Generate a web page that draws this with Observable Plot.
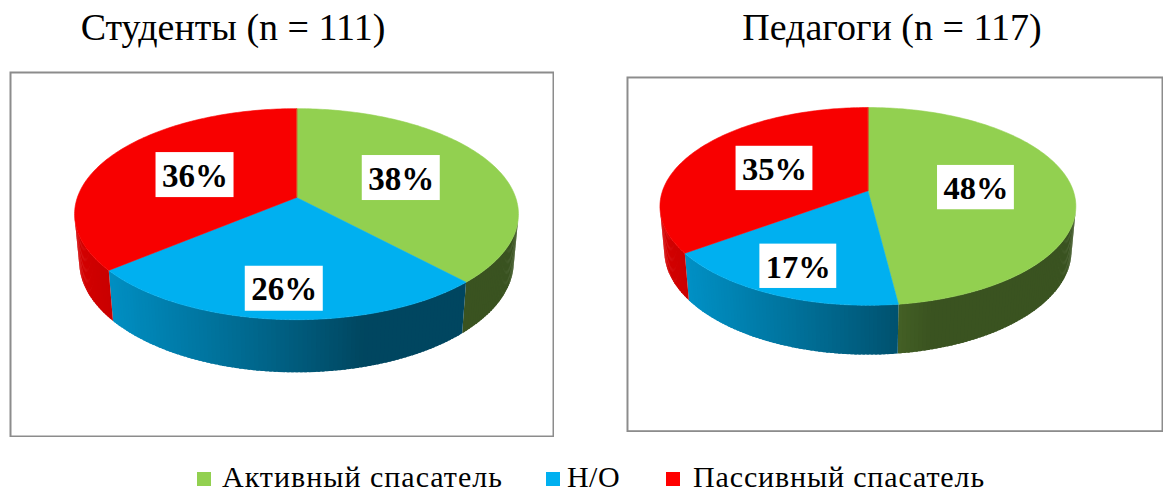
<!DOCTYPE html>
<html><head><meta charset="utf-8">
<script src="https://cdn.jsdelivr.net/npm/d3@7"></script>
<script src="https://cdn.jsdelivr.net/npm/@observablehq/plot@0.6"></script>
<style>
html,body{margin:0;padding:0;background:#fff;overflow:hidden;}
#root{position:relative;width:1163px;height:492px;overflow:hidden;font-family:"Liberation Serif","Times New Roman",serif;color:#000;}
.title{position:absolute;top:8px;font-family:"Liberation Serif","Times New Roman",serif;font-size:38px;line-height:38px;white-space:nowrap;transform:translateX(-50%);}
.chart{position:absolute;}
.lg-sw{position:absolute;width:14px;height:14px;top:472px;}
.lg-tx{position:absolute;top:462px;font-family:"Liberation Serif","Times New Roman",serif;font-size:30px;line-height:30px;white-space:nowrap;}
</style></head><body><div id="root"></div>
<script>
// ---- data ----
const categories = ["Активный спасатель", "Н/О", "Пассивный спасатель"];
const groupTitles = ["Студенты (n = 111)", "Педагоги (n = 117)"];
const studentValues = [38, 26, 36];
const teacherValues = [48, 17, 35];
// ---- styles ----
const sliceColors = ["#92D050", "#00B0F0", "#F80000"];
const legendColors = ["#92D050", "#00B0F0", "#FF0000"];

const root = document.getElementById("root");

function pie3d({values, width, height, cx, cy, K}) {
  const D = 5.59, phi = 28 * Math.PI / 180, s = Math.sin(phi), c = Math.cos(phi), h = 0.248;
  const proj = (X, Y, Z) => {
    const depth = D - Y * c - Z * s;
    return [cx + K * X / depth, cy + K * (Y * s - Z * c) / depth];
  };
  const rim = (a, Z) => proj(Math.sin(a), -Math.cos(a), Z);
  const arcs = d3.pie().sort(null).value(d => d)(values);
  const shade = (col, a) => {
    const k = 0.4 + 0.45 * Math.max(0, Math.cos(a - 255 * Math.PI / 180));
    const r = d3.rgb(col);
    return d3.rgb(r.r * k, r.g * k, r.b * k).formatHex();
  };
  const sideRows = [];
  let key = 0;
  const step = Math.PI / 180;
  // side faces (visible outer wall only), small overlapping strips for shading
  arcs.forEach((arc, i) => {
    const span = arc.endAngle - arc.startAngle;
    const n = Math.max(1, Math.ceil(span / step));
    for (let j = 0; j < n; j++) {
      const a0 = arc.startAngle + span * j / n;
      const a1 = arc.startAngle + span * (j + 1) / n;
      const am = (a0 + a1) / 2;
      if (-1 - D * c * Math.cos(am) <= -0.05) continue;
      const fill = shade(sliceColors[i], am);
      const a1x = j < n - 1 ? a1 + step * 0.6 : a1;
      const pts = [rim(a0, 0), rim(a1x, 0), rim(a1x, -h), rim(a0, -h)];
      key++;
      pts.forEach(p => sideRows.push({key, x: p[0], y: p[1], fill}));
    }
  });
  const topRows = [];
  // top faces
  arcs.forEach((arc, i) => {
    key++;
    const fill = sliceColors[i];
    const ctr = proj(0, 0, 0);
    topRows.push({key, x: ctr[0], y: ctr[1], fill});
    const n = Math.max(2, Math.ceil((arc.endAngle - arc.startAngle) / step));
    for (let j = 0; j <= n; j++) {
      const a = arc.startAngle + (arc.endAngle - arc.startAngle) * j / n;
      const p = rim(a, 0);
      topRows.push({key, x: p[0], y: p[1], fill});
    }
  });
  // labels
  const labels = arcs.map((arc) => {
    const am = (arc.startAngle + arc.endAngle) / 2;
    const Ym = -Math.cos(am);
    const r = 0.53 + 0.25 * Math.max(0, Ym);
    const p = proj(r * Math.sin(am), r * Ym, 0);
    return {x: p[0], y: p[1], text: Math.round(arc.value) + "%"};
  });
  const bw = 78, bh = 45;
  return Plot.plot({
    width, height,
    margin: 0,
    x: {domain: [0, width], range: [0, width], axis: null},
    y: {domain: [0, height], range: [0, height], axis: null},
    color: {type: "identity"},
    marks: [
      Plot.frame({stroke: "#8c8c8c", strokeWidth: 2, inset: 1}),
      Plot.line(sideRows, {x: "x", y: "y", z: "key", fill: "fill", curve: "linear-closed"}),
      Plot.line(topRows, {x: "x", y: "y", z: "key", fill: "fill", stroke: "fill", strokeWidth: 0.6, curve: "linear-closed"}),
      Plot.rect(labels, {x1: d => d.x - bw / 2, x2: d => d.x + bw / 2, y1: d => d.y - bh / 2, y2: d => d.y + bh / 2, fill: "white"}),
      Plot.text(labels, {x: "x", y: "y", text: "text", fontSize: 33, fontWeight: "bold", fontFamily: "Liberation Serif, Times New Roman, serif", fill: "black", dy: 1})
    ]
  });
}

function place(el, left, top) {
  const d = document.createElement("div");
  d.className = "chart";
  d.style.left = left + "px"; d.style.top = top + "px";
  d.appendChild(el);
  root.appendChild(d);
}

place(pie3d({values: studentValues, width: 545, height: 366, cx: 287, cy: 126, K: 1225}), 9, 71);
place(pie3d({values: teacherValues, width: 545, height: 361, cx: 245, cy: 116, K: 1165}), 626, 76);

[[groupTitles[0], 233], [groupTitles[1], 892]].forEach(([t, x]) => {
  const d = document.createElement("div");
  d.className = "title"; d.style.left = x + "px"; d.textContent = t;
  root.appendChild(d);
});

// legend: swatch left edge, text left edge, text width
const legendLayout = [[197, 222, 281], [546, 567, 53], [666, 693, 292]];
categories.forEach((c, i) => {
  const [sx, tx, tw] = legendLayout[i];
  const sw = document.createElement("div"); sw.className = "lg-sw";
  sw.style.left = sx + "px"; sw.style.background = legendColors[i];
  const t = document.createElement("span"); t.className = "lg-tx";
  t.style.left = tx + "px"; t.textContent = c;
  root.appendChild(sw); root.appendChild(t);
  const w = t.getBoundingClientRect().width;
  if (w > 0) t.style.letterSpacing = Math.max(-1, Math.min(1.5, (tw - w) / c.length)).toFixed(2) + "px";
});
</script>
</body></html>
